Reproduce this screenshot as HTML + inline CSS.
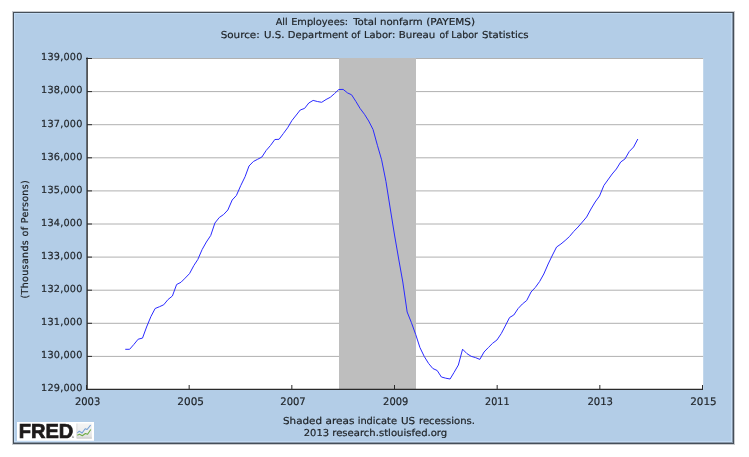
<!DOCTYPE html>
<html><head><meta charset="utf-8"><title>All Employees: Total nonfarm (PAYEMS)</title>
<style>
html,body{margin:0;padding:0;background:#fff;width:749px;height:457px;overflow:hidden}
svg{display:block;will-change:transform}
</style></head><body>
<svg width="749" height="457" viewBox="0 0 749 457">
<defs><linearGradient id="ig" x1="0" y1="0" x2="0" y2="1"><stop offset="0" stop-color="#f4f4f4"/><stop offset="0.6" stop-color="#ececec"/><stop offset="1" stop-color="#dcdcdc"/></linearGradient></defs>
<rect x="0" y="0" width="749" height="457" fill="#fff"/>
<g shape-rendering="crispEdges">
<rect x="13" y="12" width="721" height="432" fill="#B3CDE7"/>
<rect x="12" y="11" width="723" height="1" fill="#c9cbce"/>
<rect x="12" y="11" width="1" height="434" fill="#c9cbce"/>
<rect x="12" y="444" width="723" height="1" fill="#c9cbce"/>
<rect x="734" y="11" width="1" height="434" fill="#c9cbce"/>
<rect x="14" y="13" width="717" height="1" fill="#C3DBF3"/>
<rect x="14" y="13" width="1" height="429" fill="#C3DBF3"/>
<rect x="14" y="441" width="718" height="1" fill="#C3DBF3"/>
<rect x="731" y="13" width="1" height="429" fill="#C3DBF3"/>
<rect x="14" y="442" width="719" height="1" fill="#8898aa"/>
<rect x="732" y="13" width="1" height="430" fill="#8898aa"/>
<rect x="13" y="12" width="721" height="1" fill="#454f59"/>
<rect x="13" y="12" width="1" height="432" fill="#454f59"/>
<rect x="13" y="443" width="721" height="1" fill="#454f59"/>
<rect x="733" y="12" width="1" height="432" fill="#454f59"/>
</g>
<rect x="87" y="58" width="616.2" height="331" fill="#fff"/>
<line x1="87" y1="58.50" x2="703.2" y2="58.50" stroke="#B0B0B0" stroke-width="1"/>
<line x1="87" y1="91.60" x2="703.2" y2="91.60" stroke="#B0B0B0" stroke-width="1"/>
<line x1="87" y1="124.70" x2="703.2" y2="124.70" stroke="#B0B0B0" stroke-width="1"/>
<line x1="87" y1="157.80" x2="703.2" y2="157.80" stroke="#B0B0B0" stroke-width="1"/>
<line x1="87" y1="190.90" x2="703.2" y2="190.90" stroke="#B0B0B0" stroke-width="1"/>
<line x1="87" y1="224.00" x2="703.2" y2="224.00" stroke="#B0B0B0" stroke-width="1"/>
<line x1="87" y1="257.10" x2="703.2" y2="257.10" stroke="#B0B0B0" stroke-width="1"/>
<line x1="87" y1="290.20" x2="703.2" y2="290.20" stroke="#B0B0B0" stroke-width="1"/>
<line x1="87" y1="323.30" x2="703.2" y2="323.30" stroke="#B0B0B0" stroke-width="1"/>
<line x1="87" y1="356.40" x2="703.2" y2="356.40" stroke="#B0B0B0" stroke-width="1"/>

<rect x="339" y="58" width="77" height="331" fill="#BEBEBE"/>
<polyline points="125.26,349.30 129.61,349.30 133.82,344.50 138.16,339.20 142.51,338.10 146.58,327.00 150.93,316.50 155.14,308.50 159.49,306.70 163.70,304.80 168.05,299.50 172.40,296.00 176.61,284.50 180.96,282.30 185.17,278.10 189.52,273.60 193.87,265.50 197.80,259.50 202.15,249.50 206.36,242.00 210.71,235.50 214.92,223.00 219.27,217.50 223.62,214.50 227.83,210.00 232.18,200.00 236.39,195.50 240.74,185.60 245.08,176.70 249.01,166.00 253.36,161.50 257.57,159.30 261.92,157.00 266.13,150.50 270.48,145.50 274.83,139.50 279.04,139.30 283.39,133.50 287.60,127.80 291.95,120.50 296.30,115.00 300.23,110.00 304.58,108.40 308.79,103.00 313.14,100.40 317.35,101.50 321.70,102.30 326.05,99.50 330.26,97.30 334.61,93.50 338.82,89.50 343.16,89.40 347.51,92.90 351.58,94.80 355.93,101.50 360.14,108.50 364.49,114.30 368.70,121.00 373.05,129.50 377.40,145.30 381.61,159.80 385.96,181.50 390.17,208.00 394.52,235.00 398.87,260.00 402.80,282.00 407.15,312.00 411.36,322.50 415.71,334.50 419.92,347.50 424.27,356.50 428.62,363.50 432.83,368.50 437.18,370.50 441.39,377.00 445.74,378.20 450.08,379.00 454.01,372.50 458.36,365.00 462.57,349.20 466.92,353.60 471.13,356.30 475.48,357.60 479.83,359.40 484.04,352.00 488.39,347.50 492.60,343.30 496.95,340.00 501.30,333.50 505.23,326.00 509.58,317.50 513.79,315.00 518.14,308.50 522.35,304.00 526.70,300.50 531.05,292.00 535.26,287.50 539.61,281.50 543.82,274.00 548.16,264.00 552.51,255.00 556.58,247.00 560.93,244.00 565.14,240.50 569.49,236.50 573.70,231.50 578.05,227.00 582.40,222.00 586.61,217.00 590.96,209.00 595.17,202.00 599.52,196.00 603.87,185.50 607.80,180.00 612.15,174.00 616.36,169.00 620.71,162.00 624.92,159.00 629.27,151.50 633.62,147.00 637.83,139.00" fill="none" stroke="#2a2aff" stroke-width="1.0" stroke-linejoin="round"/>
<g font-family="DejaVu Sans, Liberation Sans, sans-serif" fill="#1e2226" stroke="#1e2226" stroke-width="0.2" stroke-linejoin="round" text-rendering="geometricPrecision">
<text x="275.77" y="25" font-size="9.5" textLength="11.93" lengthAdjust="spacingAndGlyphs">All</text>
<text x="291.19" y="25" font-size="9.5" textLength="56.88" lengthAdjust="spacingAndGlyphs">Employees:</text>
<text x="353.15" y="25" font-size="9.5" textLength="23.69" lengthAdjust="spacingAndGlyphs">Total</text>
<text x="379.96" y="25" font-size="9.5" textLength="42.74" lengthAdjust="spacingAndGlyphs">nonfarm</text>
<text x="426.25" y="25" font-size="9.5" textLength="48.7" lengthAdjust="spacingAndGlyphs">(PAYEMS)</text>
<text x="220.66" y="37.6" font-size="9.5" textLength="39.08" lengthAdjust="spacingAndGlyphs">Source:</text>
<text x="264.0" y="37.6" font-size="9.5" textLength="20.41" lengthAdjust="spacingAndGlyphs">U.S.</text>
<text x="287.88" y="37.6" font-size="9.5" textLength="60.4" lengthAdjust="spacingAndGlyphs">Department</text>
<text x="351.35" y="37.6" font-size="9.5" textLength="9.0" lengthAdjust="spacingAndGlyphs">of</text>
<text x="363.98" y="37.6" font-size="9.5" textLength="31.29" lengthAdjust="spacingAndGlyphs">Labor:</text>
<text x="398.65" y="37.6" font-size="9.5" textLength="36.71" lengthAdjust="spacingAndGlyphs">Bureau</text>
<text x="439.56" y="37.6" font-size="9.5" textLength="8.89" lengthAdjust="spacingAndGlyphs">of</text>
<text x="451.22" y="37.6" font-size="9.5" textLength="26.76" lengthAdjust="spacingAndGlyphs">Labor</text>
<text x="482.07" y="37.6" font-size="9.5" textLength="46.61" lengthAdjust="spacingAndGlyphs">Statistics</text>
<text x="283.06" y="423.6" font-size="9.5" textLength="38.97" lengthAdjust="spacingAndGlyphs">Shaded</text>
<text x="325.44" y="423.6" font-size="9.5" textLength="29.01" lengthAdjust="spacingAndGlyphs">areas</text>
<text x="357.66" y="423.6" font-size="9.5" textLength="39.3" lengthAdjust="spacingAndGlyphs">indicate</text>
<text x="400.98" y="423.6" font-size="9.5" textLength="14.2" lengthAdjust="spacingAndGlyphs">US</text>
<text x="418.97" y="423.6" font-size="9.5" textLength="56.04" lengthAdjust="spacingAndGlyphs">recessions.</text>
<text x="303.77" y="436" font-size="9.5" textLength="25.26" lengthAdjust="spacingAndGlyphs">2013</text>
<text x="332.27" y="436" font-size="9.5" textLength="114.94" lengthAdjust="spacingAndGlyphs">research.stlouisfed.org</text>
<text x="74.9" y="404.6" font-size="10.4" textLength="25.33" lengthAdjust="spacingAndGlyphs">2003</text>
<text x="177.37" y="404.6" font-size="10.4" textLength="26.68" lengthAdjust="spacingAndGlyphs">2005</text>
<text x="280.3" y="404.6" font-size="10.4" textLength="25.41" lengthAdjust="spacingAndGlyphs">2007</text>
<text x="383.1" y="404.6" font-size="10.4" textLength="25.16" lengthAdjust="spacingAndGlyphs">2009</text>
<text x="485.12" y="404.6" font-size="10.4" textLength="24.37" lengthAdjust="spacingAndGlyphs">2011</text>
<text x="587.39" y="404.6" font-size="10.4" textLength="25.65" lengthAdjust="spacingAndGlyphs">2013</text>
<text x="690.27" y="404.6" font-size="10.4" textLength="26.36" lengthAdjust="spacingAndGlyphs">2015</text>
<text x="82.4" y="60.30" text-anchor="end" font-size="9.7" textLength="41.4" lengthAdjust="spacing">139,000</text>
<text x="82.4" y="93.40" text-anchor="end" font-size="9.7" textLength="41.4" lengthAdjust="spacing">138,000</text>
<line x1="87" y1="91.60" x2="92" y2="91.60" stroke="#2a2a2a" stroke-width="1"/>
<text x="82.4" y="126.50" text-anchor="end" font-size="9.7" textLength="41.4" lengthAdjust="spacing">137,000</text>
<line x1="87" y1="124.70" x2="92" y2="124.70" stroke="#2a2a2a" stroke-width="1"/>
<text x="82.4" y="159.60" text-anchor="end" font-size="9.7" textLength="41.4" lengthAdjust="spacing">136,000</text>
<line x1="87" y1="157.80" x2="92" y2="157.80" stroke="#2a2a2a" stroke-width="1"/>
<text x="82.4" y="192.70" text-anchor="end" font-size="9.7" textLength="41.4" lengthAdjust="spacing">135,000</text>
<line x1="87" y1="190.90" x2="92" y2="190.90" stroke="#2a2a2a" stroke-width="1"/>
<text x="82.4" y="225.80" text-anchor="end" font-size="9.7" textLength="41.4" lengthAdjust="spacing">134,000</text>
<line x1="87" y1="224.00" x2="92" y2="224.00" stroke="#2a2a2a" stroke-width="1"/>
<text x="82.4" y="258.90" text-anchor="end" font-size="9.7" textLength="41.4" lengthAdjust="spacing">133,000</text>
<line x1="87" y1="257.10" x2="92" y2="257.10" stroke="#2a2a2a" stroke-width="1"/>
<text x="82.4" y="292.00" text-anchor="end" font-size="9.7" textLength="41.4" lengthAdjust="spacing">132,000</text>
<line x1="87" y1="290.20" x2="92" y2="290.20" stroke="#2a2a2a" stroke-width="1"/>
<text x="82.4" y="325.10" text-anchor="end" font-size="9.7" textLength="41.4" lengthAdjust="spacing">131,000</text>
<line x1="87" y1="323.30" x2="92" y2="323.30" stroke="#2a2a2a" stroke-width="1"/>
<text x="82.4" y="358.20" text-anchor="end" font-size="9.7" textLength="41.4" lengthAdjust="spacing">130,000</text>
<line x1="87" y1="356.40" x2="92" y2="356.40" stroke="#2a2a2a" stroke-width="1"/>
<text x="82.4" y="391.30" text-anchor="end" font-size="9.7" textLength="41.4" lengthAdjust="spacing">129,000</text>
<g transform="translate(28.1,298.51556886227536) rotate(-90)"><text x="0.00" y="0" font-size="9.5" textLength="118.27" lengthAdjust="spacing">(Thousands of Persons)</text>
</g>
</g>
<g stroke="#2a2a2a">
<line x1="87.1" y1="57.5" x2="87.1" y2="390" stroke-width="1.4"/>
<line x1="86" y1="58.5" x2="92" y2="58.5" stroke-width="1"/>
<line x1="86" y1="389.4" x2="703" y2="389.4" stroke-width="1.4"/>
<line x1="86.50" y1="385" x2="86.50" y2="389" stroke="#2a2a2a" stroke-width="1"/>
<line x1="189.17" y1="385" x2="189.17" y2="389" stroke="#2a2a2a" stroke-width="1"/>
<line x1="291.83" y1="385" x2="291.83" y2="389" stroke="#2a2a2a" stroke-width="1"/>
<line x1="394.50" y1="385" x2="394.50" y2="389" stroke="#2a2a2a" stroke-width="1"/>
<line x1="497.17" y1="385" x2="497.17" y2="389" stroke="#2a2a2a" stroke-width="1"/>
<line x1="599.83" y1="385" x2="599.83" y2="389" stroke="#2a2a2a" stroke-width="1"/>
<line x1="702.50" y1="385" x2="702.50" y2="389" stroke="#2a2a2a" stroke-width="1"/>
</g>
<rect x="17" y="422" width="77" height="18.8" fill="#fff"/>
<text x="18.7" y="438.2" font-family="Liberation Sans, Arial, sans-serif" font-weight="bold" font-size="19.5" textLength="54.6" lengthAdjust="spacingAndGlyphs" fill="#1d1a1a" stroke="#1d1a1a" stroke-width="0.7">FRED</text>
<text x="71.6" y="438.4" font-family="DejaVu Sans, sans-serif" font-size="3" fill="#555">&#174;</text>
<rect x="76.6" y="423.4" width="15.3" height="15.1" fill="url(#ig)"/>
<line x1="76.9" y1="423.6" x2="76.9" y2="438.3" stroke="#d0d0d0" stroke-width="0.7"/>
<line x1="76.9" y1="438.1" x2="91.9" y2="438.1" stroke="#c8c8c8" stroke-width="0.8"/>
<polyline points="77.3,433 79.2,431.1 82.1,433 85.2,428.7 87.1,429.5 90.6,425.2" fill="none" stroke="#74a0d4" stroke-width="1.05" stroke-linejoin="round"/>
<polyline points="77.3,435.2 79.5,434.3 82.3,435.7 85.4,433.5 87.6,434.3 90.8,429.5" fill="none" stroke="#6eab44" stroke-width="1.05" stroke-linejoin="round"/>
</svg>
</body></html>
